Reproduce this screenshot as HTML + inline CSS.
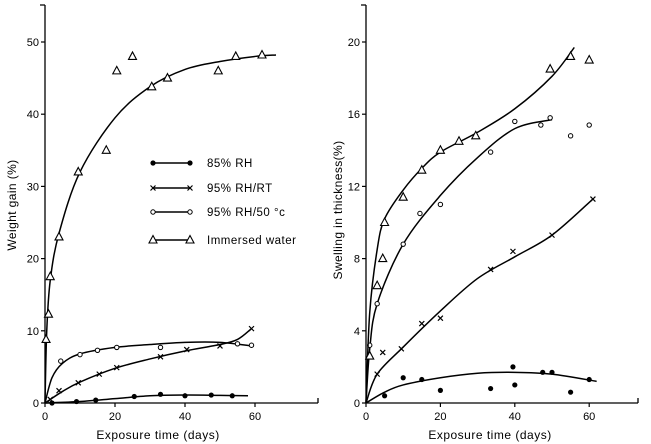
<!DOCTYPE html>
<html><head><meta charset="utf-8"><style>
body{margin:0;background:#fff;}
svg{display:block;font-family:"Liberation Sans",sans-serif;}
text{fill:#000;}
</style></head><body>
<svg id="c" width="651" height="444" viewBox="0 0 651 444"></svg>
<script>
// ---- Left panel data (days, weight gain %) ----
const L_immersedPts=[[0.3,8.8],[1,12.3],[1.5,17.5],[4,23],[9.5,32],[17.5,35],[20.5,46],[25,48],[30.5,43.8],[35,45],[49.5,46],[54.5,48],[62,48.2]];
const L_immersedCurve=[[0,0],[0.5,10],[1.5,17],[4,23.5],[10,32],[20,39.5],[30,43.8],[40,46.2],[50,47.3],[60,48],[66,48.2]];
const L_rh50Pts=[[4.5,5.8],[10,6.7],[15,7.3],[20.5,7.7],[33,7.7],[55,8.2],[59,8]];
const L_rh50Curve=[[0,0],[2,3.5],[5,5.5],[10,6.8],[20,7.7],[30,8.1],[40,8.4],[50,8.4],[59,7.9]];
const L_rtPts=[[1.5,0.5],[4,1.7],[9.5,2.8],[15.5,4],[20.5,4.9],[33,6.4],[40.5,7.4],[50,7.9],[59,10.3]];
const L_rtCurve=[[0,0],[5,1.6],[10,2.9],[20,4.8],[30,6.1],[40,7.2],[50,8.1],[55,8.8],[59,10.3]];
const L_rh85Pts=[[2,0],[9,0.2],[14.5,0.4],[25.5,0.9],[33,1.2],[40,1],[47.5,1.1],[53.5,1]];
const L_rh85Curve=[[0,0],[10,0.2],[20,0.6],[30,1],[40,1.1],[50,1.05],[58,1]];
const L_yTicks=[0,10,20,30,40,50];
const L_xTicks=[0,20,40,60];
// ---- Right panel data (days, swelling %) ----
const R_immersedPts=[[1,2.6],[3,6.5],[4.5,8],[5,10],[10,11.4],[15,12.9],[20,14],[25,14.5],[29.5,14.8],[49.5,18.5],[55,19.2],[60,19]];
const R_immersedCurve=[[0,0],[1,5],[3,8.5],[5,10.2],[10,11.8],[15,13],[20,13.9],[30,15],[40,16.3],[50,18.1],[56,19.7]];
const R_rh50Pts=[[1,3.2],[3,5.5],[10,8.8],[14.5,10.5],[20,11],[33.5,13.9],[40,15.6],[47,15.4],[49.5,15.8],[55,14.8],[60,15.4]];
const R_rh50Curve=[[0,0],[1,3],[3,5.5],[10,8.8],[20,11.5],[30,13.6],[40,15.2],[50,15.7]];
const R_rtPts=[[3,1.6],[4.5,2.8],[9.5,3],[15,4.4],[20,4.7],[33.5,7.4],[39.5,8.4],[50,9.3],[61,11.3]];
const R_rtCurve=[[0,0],[3,1.6],[10,3.1],[20,5.1],[30,6.9],[40,8.1],[50,9.3],[61,11.3]];
const R_rh85Pts=[[5,0.4],[10,1.4],[15,1.3],[20,0.7],[33.5,0.8],[39.5,2.0],[40,1.0],[47.5,1.7],[50,1.7],[55,0.6],[60,1.3]];
const R_rh85Curve=[[0,0],[5,0.6],[10,1],[20,1.4],[30,1.65],[40,1.7],[50,1.6],[62,1.2]];
const R_yTicks=[0,4,8,12,16,20];
const R_xTicks=[0,20,40,60];
const legendLabels=["85% RH","95% RH/RT","95% RH/50 °c","Immersed water"];

const NS="http://www.w3.org/2000/svg";
const svg=document.getElementById('c');
function el(t,a,p){const e=document.createElementNS(NS,t);for(const k in a)e.setAttribute(k,a[k]);(p||svg).appendChild(e);return e;}
function smooth(pts){let d="M"+pts[0][0]+","+pts[0][1];for(let i=0;i<pts.length-1;i++){const p0=pts[i-1]||pts[i],p1=pts[i],p2=pts[i+1],p3=pts[i+2]||p2;
const c1=[p1[0]+(p2[0]-p0[0])/6,p1[1]+(p2[1]-p0[1])/6],c2=[p2[0]-(p3[0]-p1[0])/6,p2[1]-(p3[1]-p1[1])/6];
d+=` C${c1[0]},${c1[1]} ${c2[0]},${c2[1]} ${p2[0]},${p2[1]}`;}return d;}
function marker(g,kind,x,y){
 if(kind==='dot'){const m=el('circle',{cx:x,cy:y,r:2.6,fill:'#000'},g);}
 else if(kind==='circle'){const m=el('circle',{cx:x,cy:y,r:2.2,fill:'#fff',stroke:'#000','stroke-width':1},g);}
 else if(kind==='x'){const m=el('path',{d:`M${x-2.5},${y-2.5}L${x+2.5},${y+2.5}M${x+2.5},${y-2.5}L${x-2.5},${y+2.5}`,stroke:'#000','stroke-width':1.2},g);}
 else {const m=el('path',{d:`M${x},${y-4.5}L${x+4},${y+3}L${x-4},${y+3}Z`,fill:'#fff',stroke:'#000','stroke-width':1.1},g);}
}
function panel(o){
 const g=el('g',{});
 const sx=v=>o.x0+v*o.kx, sy=v=>o.y0-v*o.ky;
 const ax=el('path',{d:`M${o.ax},${o.top}V${o.y0}H${o.xend}M${o.xend},${o.y0}V${o.y0-5}M${o.ax},${o.top}H${o.ax-5}`,stroke:'#000','stroke-width':1.3,fill:'none'},g);
 
 o.yT.forEach(v=>{el('line',{x1:o.ax-4,x2:o.ax,y1:sy(v),y2:sy(v),stroke:'#000','stroke-width':1.2},g);
  const t=el('text',{x:o.ax-6,y:sy(v)+4,'text-anchor':'end','font-size':11},g);t.textContent=v;});
 o.xT.forEach(v=>{el('line',{x1:sx(v),x2:sx(v),y1:o.y0,y2:o.y0+4,stroke:'#000','stroke-width':1.2},g);
  const t=el('text',{x:sx(v),y:o.y0+17,'text-anchor':'middle','font-size':11},g);t.textContent=v;});
 const xt=el('text',{x:o.xtx,y:439,'text-anchor':'middle','font-size':12,'letter-spacing':0.5},g);xt.textContent='Exposure time  (days)';
 const yt=el('text',{x:o.ytx,y:o.yty,'text-anchor':'middle','font-size':12,'letter-spacing':0.4,transform:`rotate(-90 ${o.ytx} ${o.yty})`},g);yt.textContent=o.ytitle;
 o.series.forEach(s=>{const sg=el('g',{},g);
  const p=el('path',{d:smooth(s.curve.map(q=>[sx(q[0]),sy(q[1])])),fill:'none',stroke:'#000','stroke-width':1.5},sg);
  s.pts.forEach(q=>marker(sg,s.kind,sx(q[0]),sy(q[1])));});
}
panel({name:'weight-gain-panel',x0:45,kx:3.5,y0:403,ky:7.22,ax:45,top:5,xend:318,yT:L_yTicks,xT:L_xTicks,xtx:158,ytx:16,yty:205,ytitle:'Weight gain (%)',
 series:[{name:'series-85rh',kind:'dot',pts:L_rh85Pts,curve:L_rh85Curve},{name:'series-95rh-rt',kind:'x',pts:L_rtPts,curve:L_rtCurve},
 {name:'series-95rh-50c',kind:'circle',pts:L_rh50Pts,curve:L_rh50Curve},{name:'series-immersed',kind:'tri',pts:L_immersedPts,curve:L_immersedCurve}]});
panel({name:'swelling-panel',x0:366,kx:3.72,y0:403,ky:18.05,ax:366,top:5,xend:638,yT:R_yTicks,xT:R_xTicks,xtx:490,ytx:342,yty:210,ytitle:'Swelling in thickness(%)',
 series:[{name:'series-85rh',kind:'dot',pts:R_rh85Pts,curve:R_rh85Curve},{name:'series-95rh-rt',kind:'x',pts:R_rtPts,curve:R_rtCurve},
 {name:'series-95rh-50c',kind:'circle',pts:R_rh50Pts,curve:R_rh50Curve},{name:'series-immersed',kind:'tri',pts:R_immersedPts,curve:R_immersedCurve}]});
// legend
const lg=el('g',{});
const kinds=['dot','x','circle','tri'],ly=[163,188,212,240];
legendLabels.forEach((lab,i)=>{const eg=el('g',{},lg);
 el('line',{x1:153,x2:190,y1:ly[i],y2:ly[i],stroke:'#000','stroke-width':1.5},eg);
 marker(eg,kinds[i],153,ly[i]);marker(eg,kinds[i],190,ly[i]);
 const t=el('text',{x:207,y:ly[i]+4,'font-size':11.5,'letter-spacing':0.5},eg);t.textContent=lab;});
</script>
</body></html>
